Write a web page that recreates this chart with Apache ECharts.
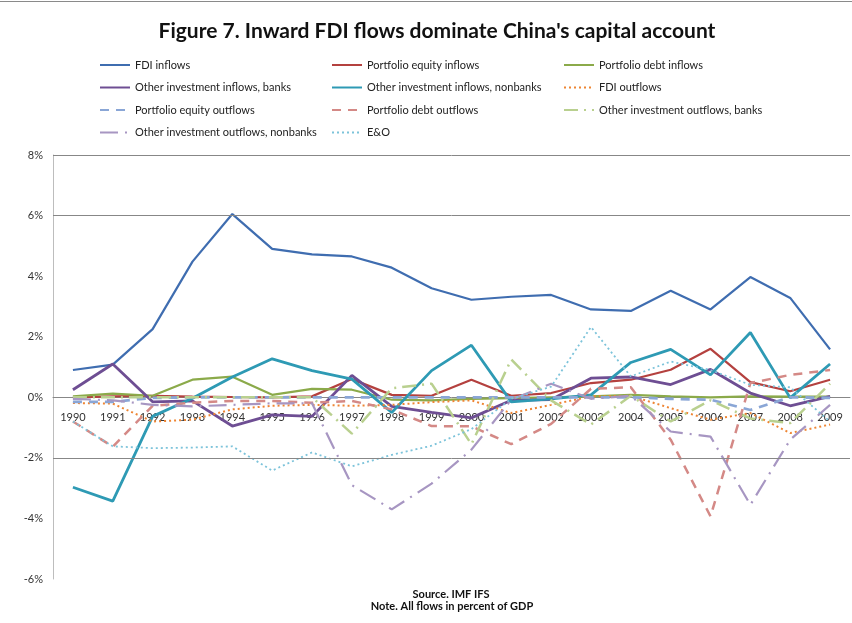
<!DOCTYPE html>
<html>
<head>
<meta charset="utf-8">
<script src="https://cdn.jsdelivr.net/npm/echarts@6/dist/echarts.min.js"></script>
<style>
  html, body { margin: 0; padding: 0; background: #fff; }
  #chart { width: 852px; height: 623px; }
</style>
</head>
<body>
<div id="chart"></div>
<script>
// years on the x axis
var years = ['1990','1991','1992','1993','1994','1995','1996','1997','1998','1999',
             '2000','2001','2002','2003','2004','2005','2006','2007','2008','2009'];

// flows, percent of GDP
var fdiIn      = [0.9, 1.08, 2.25, 4.48, 6.05, 4.9, 4.72, 4.65, 4.28, 3.6, 3.22, 3.32, 3.38, 2.9, 2.85, 3.52, 2.9, 3.97, 3.28, 1.58];
var pfEqIn     = [0, 0.03, 0.05, 0.02, 0.01, 0, 0.03, 0.6, 0.08, 0.05, 0.58, 0.05, 0.14, 0.47, 0.58, 0.91, 1.6, 0.5, 0.2, 0.58];
var pfDebtIn   = [0.03, 0.12, 0.05, 0.58, 0.68, 0.08, 0.28, 0.25, -0.08, -0.1, -0.05, -0.03, 0, 0.03, 0.08, 0.03, 0, 0.03, 0.02, 0.02];
var oiInBanks  = [0.25, 1.1, -0.15, -0.12, -0.95, -0.58, -0.63, 0.72, -0.3, -0.5, -0.68, -0.1, -0.08, 0.63, 0.67, 0.42, 0.92, 0.14, -0.28, 0.03];
var oiInNonb   = [-2.97, -3.43, -0.63, -0.03, 0.67, 1.27, 0.88, 0.6, -0.5, 0.88, 1.72, -0.15, -0.05, 0.08, 1.15, 1.58, 0.74, 2.14, -0.02, 1.1];
var fdiOut     = [-0.19, -0.21, -0.8, -0.74, -0.4, -0.28, -0.25, -0.28, -0.25, -0.16, -0.1, -0.52, -0.25, 0.03, 0.05, -0.36, -0.74, -0.52, -1.18, -0.9];
var pfEqOut    = [-0.15, -0.15, -0.02, 0, 0, 0, 0, 0, 0, 0, 0, 0, 0, 0, 0, -0.05, -0.08, -0.42, 0, -0.02];
var pfDebtOut  = [-0.8, -1.63, -0.28, -0.18, -0.12, -0.12, -0.18, -0.12, -0.4, -0.95, -0.96, -1.55, -0.88, 0.28, 0.33, -1.4, -3.93, 0.47, 0.74, 0.9];
var oiOutBanks = [0, 0, 0, 0, 0, 0, 0, -1.2, 0.3, 0.45, -1.55, 1.25, -0.1, -0.9, 0.05, -0.8, -0.1, -0.7, -0.85, 0.45];
var oiOutNonb  = [-0.05, -0.1, -0.25, -0.3, -0.25, -0.2, -0.2, -2.9, -3.7, -2.85, -1.73, -0.08, 0.45, -0.05, 0.05, -1.13, -1.3, -3.55, -1.4, -0.25];
var eo         = [-0.8, -1.62, -1.68, -1.66, -1.62, -2.42, -1.82, -2.28, -1.9, -1.6, -1.05, -0.05, 0.35, 2.32, 0.69, 1.18, 0.9, 0.41, 0.33, -0.8];

// visible horizontal rules (the rest are lost in the original)
var ruleLevels = [8, 6, -2];
var yMin = -6, yMax = 8;

var FONT = 'Lato, "Liberation Sans", sans-serif';
var GRID_TOP = 155, GRID_BOTTOM = 44, CHART_H = 623;

function line(name, data, color, width, type) {
  return {
    name: name,
    type: 'line',
    data: data,
    symbol: 'none',
    smooth: false,
    lineStyle: { color: color, width: width, type: type || 'solid' },
    itemStyle: { color: color }
  };
}

var series = [
  line('FDI inflows', fdiIn, '#3F6DB0', 2.2),
  line('Portfolio equity inflows', pfEqIn, '#B4413F', 2.2),
  line('Portfolio debt inflows', pfDebtIn, '#8BAA4A', 2.2),
  line('Other investment inflows, banks', oiInBanks, '#6E4E93', 2.8),
  line('Other investment inflows, nonbanks', oiInNonb, '#2E9AB4', 2.8),
  line('FDI outflows', fdiOut, '#EE8533', 2, [2, 3]),
  line('Portfolio equity outflows', pfEqOut, '#8AA6D6', 2.8, [9, 7]),
  line('Portfolio debt outflows', pfDebtOut, '#D48986', 2.5, [9, 7]),
  line('Other investment outflows, banks', oiOutBanks, '#B9D08F', 2.5, [14, 6, 2, 6]),
  line('Other investment outflows, nonbanks', oiOutNonb, '#A796C2', 2.2, [18, 7, 2, 7]),
  line('E&O', eo, '#7CC3DA', 1.8, [2, 3])
];

series[0].markLine = {
  silent: true,
  symbol: 'none',
  label: { show: false },
  lineStyle: { color: '#878787', width: 1, type: 'solid' },
  data: ruleLevels.map(function (v) { return { yAxis: v }; })
};

function legendCol(left, names) {
  return {
    orient: 'vertical',
    left: left,
    top: 53,
    itemWidth: 30,
    itemHeight: 14,
    itemGap: 8.5,
    selectedMode: false,
    itemStyle: { opacity: 0 },
    textStyle: { fontFamily: FONT, fontSize: 11, color: '#222', lineHeight: 14 },
    data: names
  };
}

// shift the category axis up so it sits on the 0% line
var plotH = CHART_H - GRID_TOP - GRID_BOTTOM;
var zeroShift = -plotH * (0 - yMin) / (yMax - yMin);

var chart = echarts.init(document.getElementById('chart'), null, { renderer: 'canvas' });
chart.setOption({
  animation: false,
  backgroundColor: '#fff',
  textStyle: { fontFamily: FONT },
  grid: { left: 53, right: 2, top: GRID_TOP, bottom: GRID_BOTTOM, containLabel: false },
  legend: [
    legendCol(94, ['FDI inflows', 'Other investment inflows, banks', 'Portfolio equity outflows', 'Other investment outflows, nonbanks']),
    legendCol(326, ['Portfolio equity inflows', 'Other investment inflows, nonbanks', 'Portfolio debt outflows', 'E&O']),
    legendCol(558, ['Portfolio debt inflows', 'FDI outflows', 'Other investment outflows, banks'])
  ],
  xAxis: {
    type: 'category',
    data: years,
    boundaryGap: true,
    offset: zeroShift,
    axisLine: { onZero: false, lineStyle: { color: '#878787', width: 1 } },
    axisTick: { show: false },
    axisLabel: { margin: 15, fontFamily: FONT, fontSize: 11, color: '#333' },
    splitLine: { show: false }
  },
  yAxis: {
    type: 'value',
    min: yMin,
    max: yMax,
    interval: 2,
    axisLine: { show: true, lineStyle: { color: '#BDBDBD' } },
    axisTick: { show: false },
    axisLabel: { margin: 10, fontFamily: FONT, fontSize: 11, color: '#333',
                 formatter: function (v) { return v + '%'; } },
    splitLine: { show: false }
  },
  series: series,
  graphic: [
    { type: 'line', shape: { x1: 0, y1: 1.5, x2: 852, y2: 1.5 }, style: { stroke: '#8a8a8a', lineWidth: 1 } },
    { type: 'text', x: 437, y: 31, style: { text: "Figure 7. Inward FDI flows dominate China's capital account",
      textAlign: 'center', textVerticalAlign: 'middle', font: 'bold 21px ' + FONT, fill: '#111' } },
    { type: 'text', x: 451, y: 594, style: { text: 'Source. IMF IFS',
      textAlign: 'center', textVerticalAlign: 'middle', font: 'bold 11px ' + FONT, fill: '#111' } },
    { type: 'text', x: 452, y: 606, style: { text: 'Note. All flows in percent of GDP',
      textAlign: 'center', textVerticalAlign: 'middle', font: 'bold 11px ' + FONT, fill: '#111' } }
  ]
});
</script>
</body>
</html>
